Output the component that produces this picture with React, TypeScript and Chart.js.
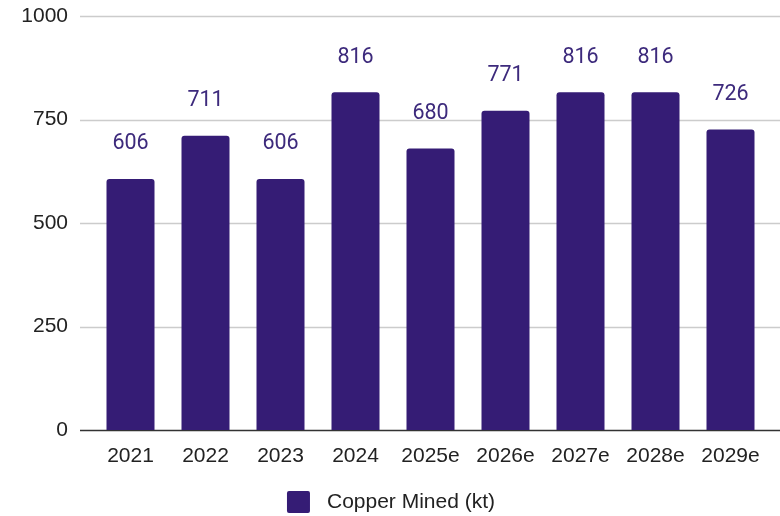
import React, { useEffect, useRef } from "react";
import { Chart, registerables } from "chart.js";

Chart.register(...registerables);

const categories = ["2021", "2022", "2023", "2024", "2025e", "2026e", "2027e", "2028e", "2029e"];
const copperMined = [606, 711, 606, 816, 680, 771, 816, 816, 726];
const yTicks = [0, 250, 500, 750, 1000];
const seriesLabel = "Copper Mined (kt)";

const BAR_COLOR = "#351c75";
const FONT = "Arial, 'Liberation Sans', sans-serif";

const gridPlugin = {
  id: "customGrid",
  beforeDatasetsDraw(chart: any) {
    const { ctx } = chart;
    const y = chart.scales.y;
    ctx.save();
    yTicks.forEach((v) => {
      const py = Math.round(y.getPixelForValue(v)) + 0.5;
      ctx.beginPath();
      ctx.strokeStyle = v === 0 ? "#333333" : "#cccccc";
      ctx.lineWidth = 1.5;
      ctx.moveTo(80, py);
      ctx.lineTo(780, py);
      ctx.stroke();
    });
    ctx.restore();
  },
};

const labelPlugin = {
  id: "barLabels",
  afterDatasetsDraw(chart: any) {
    const { ctx } = chart;
    const meta = chart.getDatasetMeta(0);
    ctx.save();
    ctx.font = "21.5px Roboto, 'Open Sans', sans-serif";
    ctx.fillStyle = "#3d2a7c";
    ctx.textAlign = "center";
    ctx.textBaseline = "middle";
    meta.data.forEach((bar: any, i: number) => {
      ctx.fillText(String(copperMined[i]), bar.x, bar.y - 35);
    });
    ctx.restore();
  },
};

const legendPlugin = {
  id: "customLegend",
  afterDraw(chart: any) {
    const { ctx } = chart;
    const ds = chart.data.datasets[0];
    ctx.save();
    ctx.font = "21px " + FONT;
    const textW = ctx.measureText(ds.label).width;
    const boxW = 23;
    const gap = 17;
    const total = boxW + gap + textW;
    const x0 = (782 - total) / 2;
    const cy = 502;
    ctx.fillStyle = ds.backgroundColor;
    ctx.beginPath();
    (ctx as any).roundRect ? ctx.roundRect(x0, cy - 11, boxW, 22, 2) : ctx.rect(x0, cy - 11, boxW, 22);
    ctx.fill();
    ctx.fillStyle = "#222222";
    ctx.textAlign = "left";
    ctx.textBaseline = "middle";
    ctx.fillText(ds.label, x0 + boxW + gap, cy);
    ctx.restore();
  },
};

export default function App() {
  const ref = useRef<HTMLCanvasElement>(null);
  useEffect(() => {
    if (!ref.current) return;
    const chart = new Chart(ref.current, {
      type: "bar",
      data: {
        labels: categories,
        datasets: [
          {
            label: seriesLabel,
            data: copperMined,
            backgroundColor: BAR_COLOR,
            borderRadius: 3,
            borderSkipped: "bottom",
            barPercentage: 0.64,
            categoryPercentage: 1,
          },
        ],
      },
      options: {
        animation: false,
        responsive: false,
        maintainAspectRatio: false,
        layout: { padding: { top: 16, right: 12, bottom: 44, left: 0 } },
        plugins: {
          legend: { display: false },
          tooltip: { enabled: false },
        },
        scales: {
          x: {
            grid: { display: false, drawTicks: false },
            border: { display: false },
            ticks: { color: "#222222", font: { size: 21, family: FONT }, padding: 14, maxRotation: 0, autoSkip: false },
            afterFit(scale: any) {
              scale.height = 42;
              scale.paddingLeft = 0;
              scale.paddingRight = 0;
            },
          },
          y: {
            min: 0,
            max: 1000,
            afterBuildTicks(scale: any) {
              scale.ticks = yTicks.map((v) => ({ value: v }));
            },
            grid: { display: false, drawTicks: false },
            border: { display: false },
            ticks: {
              color: "#222222",
              font: { size: 21, family: FONT },
              padding: 25,
              callback: (v: any) => String(v),
            },
            afterFit(scale: any) {
              scale.width = 93;
              scale.paddingTop = 0;
              scale.paddingBottom = 0;
            },
          },
        },
      },
      plugins: [gridPlugin, labelPlugin, legendPlugin],
    });
    return () => chart.destroy();
  }, []);
  return (
    <div style={{ position: "fixed", left: 0, top: 0, width: 780, height: 516, background: "#fff" }}>
      <canvas ref={ref} width={780} height={516} style={{ display: "block" }} />
    </div>
  );
}
